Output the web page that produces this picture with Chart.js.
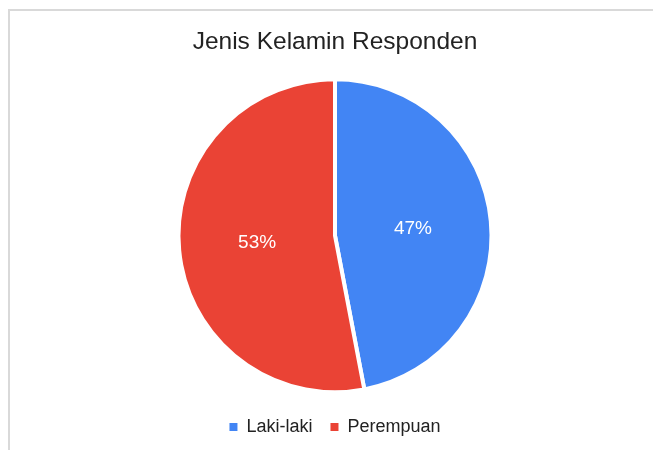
<!DOCTYPE html>
<html>
<head>
<meta charset="utf-8">
<script src="https://cdn.jsdelivr.net/npm/chart.js@4/dist/chart.umd.min.js"></script>
<style>
  html, body { margin: 0; padding: 0; background: #fff; }
  #wrap { position: relative; width: 653px; height: 450px; overflow: hidden; }
  #frame { position: absolute; left: 8px; top: 9px; width: 700px; height: 500px; border-left: 2px solid #d9d9d9; border-top: 2px solid #d9d9d9; box-sizing: border-box; pointer-events: none; }
  canvas { position: absolute; left: 0; top: 0; }
</style>
</head>
<body>
<div id="wrap">
  <canvas id="c" width="653" height="450"></canvas>
  <div id="frame"></div>
</div>
<script>
const titleText = "Jenis Kelamin Responden";
const categories = ["Laki-laki", "Perempuan"];
const values = [47, 53];
const colors = ["#4285F4", "#EA4335"];

const pctLabels = {
  id: 'pctLabels',
  afterDatasetsDraw(chart) {
    const ctx = chart.ctx;
    const meta = chart.getDatasetMeta(0);
    const data = chart.data.datasets[0].data;
    const total = data.reduce((a, b) => a + b, 0);
    ctx.save();
    ctx.fillStyle = '#ffffff';
    ctx.font = '19px "Liberation Sans", Arial, sans-serif';
    ctx.textAlign = 'center';
    ctx.textBaseline = 'middle';
    meta.data.forEach((arc, i) => {
      const p = arc.tooltipPosition();
      ctx.fillText(Math.round(data[i] / total * 100) + '%', p.x, p.y);
    });
    ctx.restore();
  }
};

new Chart(document.getElementById('c'), {
  type: 'pie',
  data: {
    labels: categories,
    datasets: [{
      data: values,
      backgroundColor: colors,
      borderColor: '#ffffff',
      borderWidth: 4,
      hoverOffset: 0,
      radius: 156.5
    }]
  },
  options: {
    responsive: false,
    animation: false,
    layout: { padding: { left: 17, right: 0, top: 0, bottom: 4 } },
    plugins: {
      title: {
        display: true,
        text: titleText,
        color: '#222222',
        font: { family: '"Liberation Sans", Arial, sans-serif', size: 24.5, weight: 'normal' },
        padding: { top: 28, bottom: 14 }
      },
      legend: {
        position: 'bottom',
        labels: {
          color: '#222222',
          font: { family: '"Liberation Sans", Arial, sans-serif', size: 18 },
          boxWidth: 8,
          boxHeight: 8,
          padding: 18,
          generateLabels(chart) {
            return Chart.overrides.pie.plugins.legend.labels.generateLabels(chart)
              .map(l => Object.assign(l, { lineWidth: 0, strokeStyle: l.fillStyle }));
          }
        }
      },
      tooltip: { enabled: false }
    }
  },
  plugins: [pctLabels]
});
</script>
</body>
</html>
